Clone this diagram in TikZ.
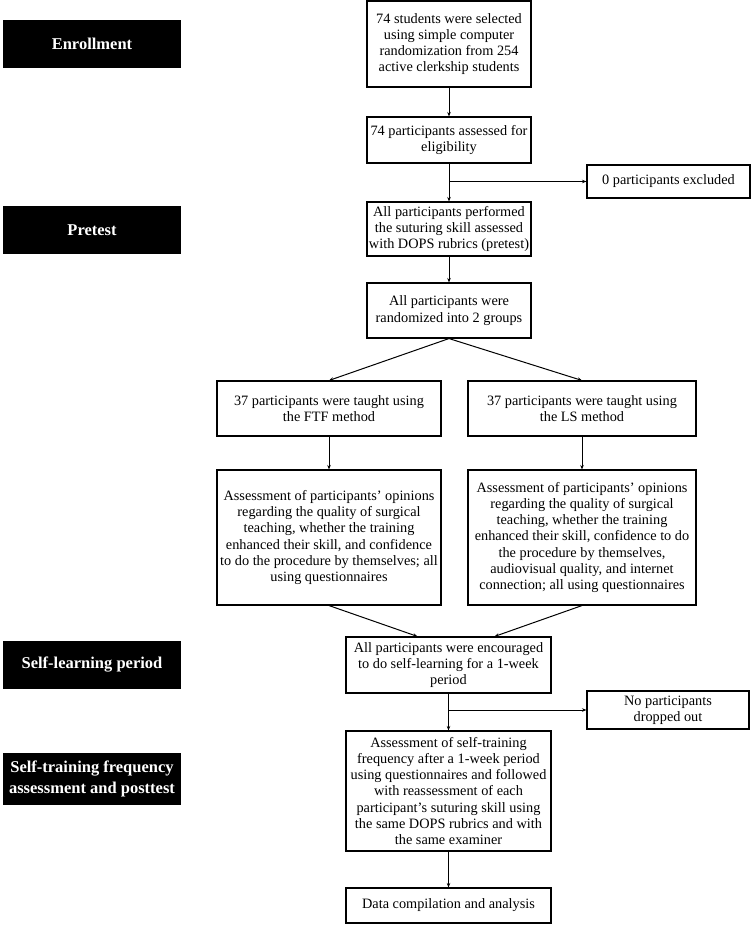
\documentclass[tikz,border=0pt]{standalone}
\usepackage{fontspec}
\setmainfont{Liberation Serif}
\usetikzlibrary{arrows.meta,calc}
\begin{document}
\begin{tikzpicture}[x=1pt,y=-1pt,
  box/.style={draw=black, line width=1.1pt, align=center, inner sep=0pt, font=\fontsize{14.3}{16.2}\selectfont},
  lab/.style={fill=black, text=white, align=center, inner sep=0pt, minimum width=178, minimum height=48, font=\fontsize{16.5}{21.5}\selectfont\bfseries},
  arr/.style={line width=1pt, -{Stealth[length=4.5pt,width=3.5pt]}},
  ln/.style={line width=1pt}]
\useasboundingbox (0,0) rectangle (752,926);

% phase labels
\node[lab] (enr) at (92,44) {Enrollment};
\node[lab] (pre) at (92,230) {Pretest};
\node[lab] (sel) at (92,665) {Self-learning period};
\node[lab, minimum height=52] (stf) at (92,779) {Self-training frequency\\assessment and posttest};

% main boxes
\node[box, minimum width=164, minimum height=86] (b1) at (449,44) {74 students were selected\\using simple computer\\randomization from 254\\active clerkship students};
\node[box, minimum width=164, minimum height=46] (b2) at (449,140) {74 participants assessed for\\eligibility};
\node[box, minimum width=163, minimum height=33] (ex) at (668.5,181.5) {0 participants excluded};
\node[box, minimum width=164, minimum height=54] (b4) at (449,229) {All participants performed\\the suturing skill assessed\\with DOPS rubrics (pretest)};
\node[box, minimum width=164, minimum height=55] (b5) at (449,310.5) {All participants were\\randomized into 2 groups};
\node[box, minimum width=224, minimum height=55] (ftf) at (329,408.5) {37 participants were taught using\\the FTF method};
\node[box, minimum width=228, minimum height=55] (ls) at (582,408.5) {37 participants were taught using\\the LS method};
\node[box, minimum width=224, minimum height=135] (ftfa) at (329,537.5) {Assessment of participants’ opinions\\regarding the quality of surgical\\teaching, whether the training\\enhanced their skill, and confidence\\to do the procedure by themselves; all\\using questionnaires};
\node[box, minimum width=228, minimum height=135] (lsa) at (582,537.5) {Assessment of participants’ opinions\\regarding the quality of surgical\\teaching, whether the training\\enhanced their skill, confidence to do\\the procedure by themselves,\\audiovisual quality, and internet\\connection; all using questionnaires};
\node[box, minimum width=205, minimum height=56] (b10) at (448.5,665) {All participants were encouraged\\to do self-learning for a 1-week\\period};
\node[box, minimum width=162, minimum height=38] (drop) at (668,710) {No participants\\dropped out};
\node[box, minimum width=205, minimum height=120] (b12) at (448.5,791) {Assessment of self-training\\frequency after a 1-week period\\using questionnaires and followed\\with reassessment of each\\participant’s suturing skill using\\the same DOPS rubrics and with\\the same examiner};
\node[box, minimum width=205, minimum height=35] (b13) at (448.5,905.5) {Data compilation and analysis};

% connectors
\coordinate (j1) at (b2.south |- ex.west);
\coordinate (j2) at (b10.south |- drop.west);
\coordinate (t1) at ($(b10.north)+(-31,0)$);
\coordinate (t2) at ($(b10.north)+(46,0)$);
\draw[arr] (b1) -- (b2);
\draw[arr] (b2) -- (b4);
\draw[arr] (j1) -- (ex.west);
\draw[arr] (b4) -- (b5);
\draw[arr] (b5.south) -- (ftf.north);
\draw[arr] (b5.south) -- (ls.north);
\draw[arr] (ftf) -- (ftfa);
\draw[arr] (ls) -- (lsa);
\draw[arr] (ftfa.south) -- (t1);
\draw[arr] (lsa.south) -- (t2);
\draw[arr] (b10.south) -- (b12.north);
\draw[arr] (j2) -- (drop.west);
\draw[arr] (b12) -- (b13);
\end{tikzpicture}
\end{document}
